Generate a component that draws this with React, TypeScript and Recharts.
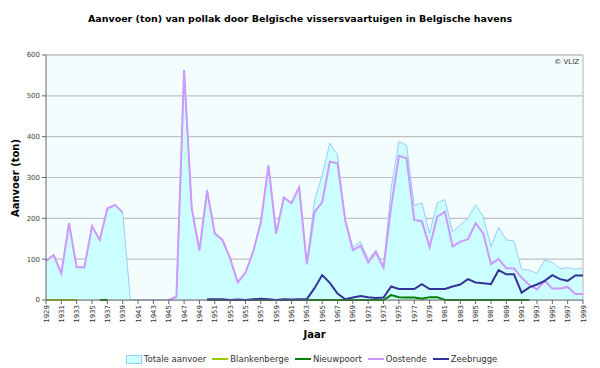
import React from "react";
import {
  ComposedChart,
  Area,
  Line,
  XAxis,
  YAxis,
  CartesianGrid,
  Legend,
  ReferenceLine,
  Label,
} from "recharts";

const years = Array.from({ length: 71 }, (_, i) => 1929 + i);

// Totale aanvoer (ton)
const totale = [
  95, 110, 65, 188, 80, 80, 181, 147, 224, 233, 214, 0, 0, 0, 0, 0, 0, 8, 563,
  224, 121, 270, 165, 149, 102, 44, 67, 120, 192, 331, 163, 253, 238, 278, 89,
  245, 305, 384, 355, 198, 129, 143, 100, 122, 82, 275, 388, 379, 231, 238, 163,
  238, 246, 167, 184, 200, 233, 204, 131, 178, 147, 145, 75, 73, 65, 98, 92, 77,
  79, 76, 78,
];

const blankenberge = [
  0, 0, 0, 0, 0, null, null, null, null, null, null, null, null, null, null,
  null, null, null, null, null, null, null, null, null, null, null, null, null,
  null, null, null, null, null, null, null, null, null, null, null, null, null,
  null, null, null, null, null, null, null, null, null, null, null, null, null,
  null, null, null, null, null, null, null, null, null, null, null, null, null,
  null, null, null, null,
];

const nieuwpoort = [
  null, null, null, null, null, null, null, 0, 0, null, null, null, null, null,
  null, null, null, null, null, null, null, 0, 0, 0, 0, 0, 0, 0, 0, 0, 0, 0, 0,
  0, 0, 0, 0, 0, 0, 0, 0, 0, 0, 0, 0, 12, 7, 6, 6, 3, 7, 7, 0, 0, 0, 0, 0, 0, 0,
  0, 0, 0, 0, 0, null, null, null, null, null, null, null,
];

const oostende = [
  95, 110, 65, 188, 80, 80, 181, 147, 224, 233, 214, null, null, null, null,
  null, 0, 8, 563, 224, 121, 268, 163, 147, 102, 43, 67, 118, 189, 329, 163, 251,
  237, 276, 87, 215, 239, 339, 335, 196, 122, 133, 92, 117, 79, 230, 353, 347,
  196, 193, 129, 204, 216, 131, 143, 149, 188, 163, 88, 100, 78, 77, 55, 37, 26,
  47, 28, 28, 32, 15, 15,
];

const zeebrugge = [
  null, null, null, null, null, null, null, null, null, null, null, null, null,
  null, null, null, null, null, null, null, null, 2, 2, 2, 0, 1, 0, 2, 3, 2, 0, 2,
  1, 2, 2, 29, 61, 42, 16, 2, 6, 10, 7, 5, 6, 33, 27, 27, 27, 39, 27, 27, 27, 33,
  38, 51, 43, 41, 39, 73, 63, 63, 18, 31, 38, 47, 61, 51, 47, 60, 60,
];

const yTicks = [0, 100, 200, 300, 400, 500, 600];
const xTicks = years.filter((y) => (y - 1929) % 2 === 0);

const data = years.map((year, i) => ({
  year,
  totale: totale[i],
  blankenberge: blankenberge[i],
  nieuwpoort: nieuwpoort[i],
  oostende: oostende[i],
  zeebrugge: zeebrugge[i],
}));

const font = "Tahoma, 'DejaVu Sans', 'Liberation Sans', Arial, sans-serif";

const XTick = ({ x, y, payload }: any) => (
  <text
    transform={`translate(${x + 2.5},${y}) rotate(-90)`}
    textAnchor='end'
    fontSize={7}
    fill='#333'
    fontFamily={font}
  >
    {payload.value}
  </text>
);

const legendItems = [
  { name: "Totale aanvoer", color: "#ccffff", area: true },
  { name: "Blankenberge", color: "#99cc00" },
  { name: "Nieuwpoort", color: "#008000" },
  { name: "Oostende", color: "#cc99ff" },
  { name: "Zeebrugge", color: "#333399" },
];

const renderLegend = () => (
  <div
    style={{
      display: "flex",
      justifyContent: "center",
      alignItems: "center",
      gap: 6,
      fontFamily: font,
      fontSize: 8.5,
      color: "#333",
      paddingLeft: 40,
      height: 18,
    }}
  >
    {legendItems.map((it) => (
      <span key={it.name} style={{ display: "flex", alignItems: "center", gap: 2 }}>
        {it.area ? (
          <span
            style={{
              width: 14,
              height: 7,
              background: it.color,
              border: "1px solid #99ccff",
            }}
          />
        ) : (
          <span style={{ width: 16, height: 2, background: it.color }} />
        )}
        {it.name}
      </span>
    ))}
  </div>
);

export default function App() {
  return (
    <div
      style={{
        position: "absolute",
        left: 0,
        top: 0,
        width: 600,
        height: 368,
        background: "#fff",
      }}
    >
      <div
        style={{
          position: "absolute",
          top: 13,
          width: 600,
          textAlign: "center",
          fontFamily: font,
          fontWeight: "bold",
          fontSize: 9.5,
          color: "#000",
          zIndex: 1,
        }}
      >
        Aanvoer (ton) van pollak door Belgische vissersvaartuigen in Belgische havens
      </div>
      <ComposedChart
        width={600}
        height={368}
        data={data}
        margin={{ top: 55, right: 17, left: 0, bottom: 0 }}
      >
        <CartesianGrid
          vertical={false}
          stroke='#c0c0c0'
          strokeWidth={1.2}
          fill='#f3fdfd'
        />
        <XAxis
          dataKey='year'
          type='number'
          domain={[1929, 1999]}
          ticks={xTicks}
          interval={0}
          height={50}
          tickSize={4}
          tickMargin={1}
          stroke='#666'
          tick={<XTick />}
        >
          <Label
            value='Jaar'
            position='insideBottom'
            offset={12}
            style={{ fontFamily: font, fontWeight: "bold", fontSize: 10, fill: "#000" }}
          />
        </XAxis>
        <YAxis
          domain={[0, 600]}
          ticks={yTicks}
          width={46}
          tickSize={4}
          tickMargin={2}
          stroke='#666'
          tick={{ fontSize: 7, fill: "#444", fontFamily: font }}
        >
          <Label
            content={() => (
              <text
                transform='translate(19,178) rotate(-90)'
                textAnchor='middle'
                fontFamily={font}
                fontWeight='bold'
                fontSize={10}
                fill='#000'
              >
                Aanvoer (ton)
              </text>
            )}
          />
        </YAxis>
        <ReferenceLine x={1999} stroke='#c0c0c0' strokeWidth={1.2} />
        <ReferenceLine
          y={600}
          stroke='#c0c0c0'
          strokeWidth={1.2}
          label={{
            value: "© VLIZ",
            position: "insideTopRight",
            offset: 4,
            fontSize: 7,
            fill: "#333",
            fontFamily: font,
          }}
        />
        <Area
          type='linear'
          dataKey='totale'
          name='Totale aanvoer'
          stroke='#99ccff'
          strokeWidth={1}
          fill='#ccffff'
          fillOpacity={1}
          isAnimationActive={false}
        />
        <Line
          type='linear'
          dataKey='blankenberge'
          name='Blankenberge'
          stroke='#99cc00'
          strokeWidth={2}
          dot={false}
          isAnimationActive={false}
        />
        <Line
          type='linear'
          dataKey='nieuwpoort'
          name='Nieuwpoort'
          stroke='#008000'
          strokeWidth={2}
          dot={false}
          isAnimationActive={false}
        />
        <Line
          type='linear'
          dataKey='oostende'
          name='Oostende'
          stroke='#cc99ff'
          strokeWidth={2}
          dot={false}
          isAnimationActive={false}
        />
        <Line
          type='linear'
          dataKey='zeebrugge'
          name='Zeebrugge'
          stroke='#333399'
          strokeWidth={2}
          dot={false}
          isAnimationActive={false}
        />
        <Legend verticalAlign='bottom' height={18} content={renderLegend} />
      </ComposedChart>
    </div>
  );
}
